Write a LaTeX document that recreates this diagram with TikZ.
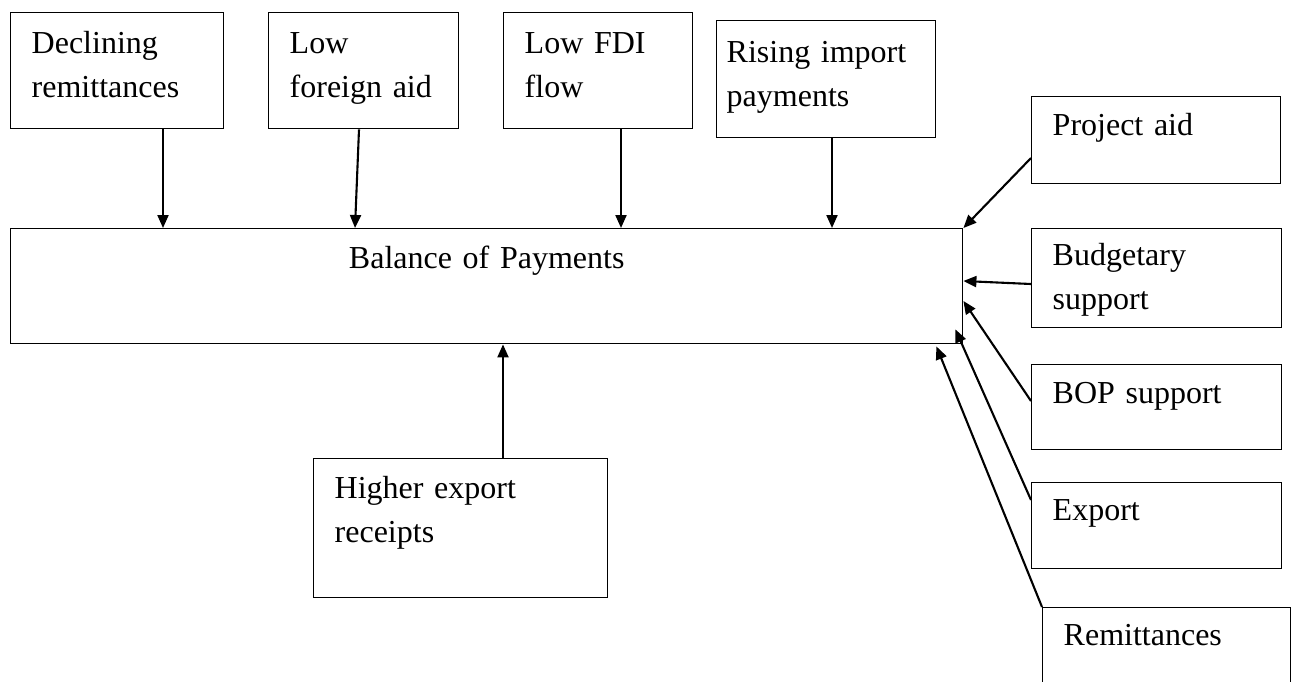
\documentclass[tikz,border=0pt]{standalone}
\usepackage{fontspec}
\setmainfont{Liberation Serif}
\usetikzlibrary{arrows.meta,calc}

\begin{document}
\begin{tikzpicture}[x=1pt, y=-1pt]
		\tikzstyle{every node}=[font=\fontsize{32}{43.5}\selectfont]
		\tikzstyle{box}=[draw, line width=1.4pt, anchor=north west, inner xsep=21pt, inner ysep=0pt, align=left]
		\tikzstyle{arr}=[line width=2.1pt, -{Triangle[length=13pt, width=11pt]}]
		\useasboundingbox (0,0) rectangle (1297,681);
		% causes along the top
		\node[box, text width=171pt, text height=41pt, text depth=75pt] (Decl) at (10,12) {Declining\\remittances};
		\node[box, text width=148pt, text height=41pt, text depth=75pt] (Aid) at (268,12) {Low\\foreign aid};
		\node[box, text width=147pt, text height=41pt, text depth=75pt] (FDI) at (503,12) {Low FDI\\flow};
		\node[box, inner xsep=10pt, text width=199pt, text height=42pt, text depth=75pt] (Imp) at (716,20) {Rising import\\payments};
		% the balance itself
		\node[box, inner xsep=0pt, align=center, text width=952pt, text height=40pt, text depth=75pt] (BOP) at (10,228) {Balance of Payments};
		\node[box, text width=252pt, text height=40pt, text depth=99pt] (Exp) at (313,458) {Higher export\\receipts};
		% inflows on the right
		\node[box, text width=207pt, text height=39pt, text depth=48pt] (Proj) at (1031,96) {Project aid};
		\node[box, text width=208pt, text height=37pt, text depth=62pt] (Budg) at (1031,228) {Budgetary\\support};
		\node[box, text width=208pt, text height=39pt, text depth=46pt] (Supp) at (1031,364) {BOP support};
		\node[box, text width=208pt, text height=38pt, text depth=48pt] (Export) at (1031,482) {Export};
		\node[box, text width=206pt, text height=38pt, text depth=55pt] (Remit) at (1042,607) {Remittances};
		\draw [arr] ($(Decl.south west)+(153,0)$) -- ($(BOP.north west)+(153,0)$);
		\draw [arr] ($(Aid.south west)+(91,0)$) -- ($(BOP.north west)+(345,0)$);
		\draw [arr] ($(FDI.south west)+(118,0)$) -- ($(BOP.north west)+(611,0)$);
		\draw [arr] ($(Imp.south west)+(116,0)$) -- ($(BOP.north west)+(822,0)$);
		\draw [arr] ($(Exp.north west)+(190,0)$) -- ($(BOP.south west)+(493,0)$);
		\draw [arr] ($(Proj.north west)+(0,62)$) -- (BOP.north east);
		\draw [arr] ($(Budg.north west)+(0,56)$) -- ($(BOP.north east)+(0,53)$);
		\draw [arr] ($(Supp.north west)+(0,37)$) -- ($(BOP.north east)+(0,73)$);
		\draw [arr] ($(Export.north west)+(0,18)$) -- ($(BOP.south east)+(-8,-15)$);
		\draw [arr] (Remit.north west) -- ($(BOP.south east)+(-27,2)$);
\end{tikzpicture}
\end{document}
